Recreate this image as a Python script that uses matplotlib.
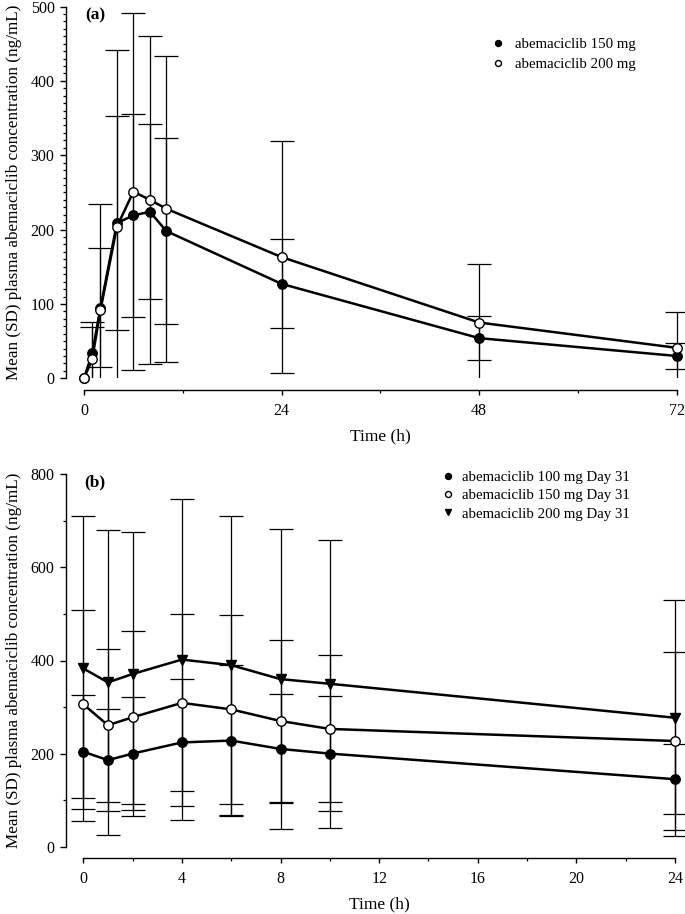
import numpy as np
import matplotlib
matplotlib.use("Agg")
import matplotlib.pyplot as plt
from matplotlib.lines import Line2D
from matplotlib.ticker import MultipleLocator, FixedLocator

plt.rcParams['font.family'] = ['Liberation Serif', 'DejaVu Serif']

# ---------------- data ----------------
# Panel (a): single dose
time_a = [0, 1, 2, 4, 6, 8, 10, 24, 48, 72]
mean_a_150 = [0, 34, 95, 209, 219, 224, 198, 127, 54, 30]
sd_a_150 = [0, 42, 80, 144, 137, 118, 125, 60, 30, 18]
mean_a_200 = [0, 26, 92, 204, 251, 240, 228, 163, 75, 41]
sd_a_200 = [0, 43, 143, 237, 240, 221, 206, 156, 79, 48]
labels_a = ["abemaciclib 150 mg", "abemaciclib 200 mg"]

# Panel (b): Day 31
time_b = [0, 1, 2, 4, 6, 8, 10, 24]
mean_b_100 = [204, 186, 200, 224, 228, 210, 200, 145]
sd_b_100 = [122, 109, 122, 136, 162, 117, 124, 75]
mean_b_150 = [306, 261, 278, 309, 295, 270, 253, 227]
sd_b_150 = [202, 164, 186, 190, 203, 175, 158, 192]
mean_b_200 = [383, 353, 371, 402, 390, 360, 350, 277]
sd_b_200 = [328, 327, 306, 344, 321, 323, 309, 253]
labels_b = ["abemaciclib 100 mg Day 31", "abemaciclib 150 mg Day 31",
            "abemaciclib 200 mg Day 31"]

ylabel = "Mean (SD) plasma abemaciclib concentration (ng/mL)"
xlabel = "Time (h)"

fig = plt.figure(figsize=(6.85, 9.14), dpi=100)
# axes extend to the right figure edge so that end-point error caps are not cut
ax_a = fig.add_axes([66 / 685, 1 - 378.3 / 914, 619 / 685, 371.8 / 914])
ax_b = fig.add_axes([65.7 / 685, 1 - 846.7 / 914, 619.3 / 685, 372.4 / 914])

LW = 1.8
MS = 6.8
CAP = 8.5
ELW = 0.9


def draw(ax, t, m, s, marker, face):
    t = np.asarray(t, float)
    m = np.asarray(m, float)
    s = np.asarray(s, float)
    k = s > 0
    ax.errorbar(t[k], m[k], yerr=s[k], fmt='none', ecolor='black',
                elinewidth=ELW, capsize=CAP, capthick=ELW, zorder=2)
    ax.plot(t, m, color='black', lw=LW, marker=marker, ms=MS,
            mfc=face, mec='black', mew=1.0, zorder=3, clip_on=False)


draw(ax_a, time_a, mean_a_150, sd_a_150, 'o', 'black')
draw(ax_a, time_a, mean_a_200, sd_a_200, 'o', 'white')

draw(ax_b, time_b, mean_b_100, sd_b_100, 'o', 'black')
draw(ax_b, time_b, mean_b_150, sd_b_150, 'o', 'white')
draw(ax_b, time_b, mean_b_200, sd_b_200, 'v', 'black')


def style(ax, xend, xright, ymax, xmaj, xmin_, ymaj, ymin_, xleft):
    ax.set_ylim(0, ymax)
    for sp in ['top', 'right']:
        ax.spines[sp].set_visible(False)
    ax.spines['bottom'].set_position(('outward', 8.3))
    ax.spines['bottom'].set_bounds(0, xend)
    ax.spines['left'].set_bounds(0, ymax)
    for sp in ['bottom', 'left']:
        ax.spines[sp].set_linewidth(1.0)
    ax.xaxis.set_major_locator(FixedLocator(np.arange(0, xend + 0.1, xmaj)))
    ax.xaxis.set_minor_locator(FixedLocator(np.arange(xmin_, xend, xmaj)))
    ax.yaxis.set_major_locator(MultipleLocator(ymaj))
    ax.yaxis.set_minor_locator(MultipleLocator(ymin_))
    ax.tick_params(which='major', direction='out', length=4.2, width=1.0,
                   labelsize=11.5, pad=4)
    ax.tick_params(which='minor', direction='out', length=2.5, width=0.9)
    ax.tick_params(axis='x', which='major', length=3.5, pad=6)
    ax.set_xlim(xleft, xright)
    ax.set_xlabel(xlabel, fontsize=12.5)
    ax.set_ylabel(ylabel, fontsize=12.3)
    ax.patch.set_alpha(0)


style(ax_a, 72, 73.01, 500, 24, 12, 100, 10, -2.19)
style(ax_b, 24, 24.405, 800, 4, 2, 200, 100, -0.713)

ax_a.xaxis.set_label_coords((380 - 66) / 619, -58.4 / 371.8)
ax_b.xaxis.set_label_coords((379 - 65.7) / 619.3, -58 / 372.4)
ax_a.xaxis.label.set_va('center')
ax_b.xaxis.label.set_va('center')
ax_a.yaxis.set_label_coords(-52 / 619, 0.5)
ax_b.yaxis.set_label_coords(-52 / 619.3, 0.5)
ax_a.yaxis.label.set_va('center')
ax_b.yaxis.label.set_va('center')

ax_a.text(19 / 619, 1 - 8.5 / 371.8, "(a)", transform=ax_a.transAxes,
          fontsize=12.5, fontweight='bold', ha='left', va='center')
ax_b.text(19 / 619.3, 1 - 7.7 / 372.4, "(b)", transform=ax_b.transAxes,
          fontsize=12.5, fontweight='bold', ha='left', va='center')

# legends
h_a = [Line2D([], [], ls='none', marker='o', ms=4.3, mfc='black', mec='black'),
       Line2D([], [], ls='none', marker='o', ms=4.3, mfc='white', mec='black')]
ax_a.legend(h_a, labels_a, loc='upper left',
            bbox_to_anchor=((490.5 - 66) / 619, 1 - (38 - 6.5) / 371.8),
            frameon=False, fontsize=10.7, borderpad=0, borderaxespad=0,
            handlelength=1.0, handletextpad=0.66, labelspacing=0.42)

h_b = [Line2D([], [], ls='none', marker='o', ms=4.3, mfc='black', mec='black'),
       Line2D([], [], ls='none', marker='o', ms=4.3, mfc='white', mec='black'),
       Line2D([], [], ls='none', marker='v', ms=4.3, mfc='black', mec='black')]
ax_b.legend(h_b, labels_b, loc='upper left',
            bbox_to_anchor=((440.5 - 65.7) / 619.3, 1 + (474.3 - 470.5) / 372.4),
            frameon=False, fontsize=10.7, borderpad=0, borderaxespad=0,
            handlelength=1.0, handletextpad=0.45, labelspacing=0.33)

fig.savefig("out.png", dpi=100)
